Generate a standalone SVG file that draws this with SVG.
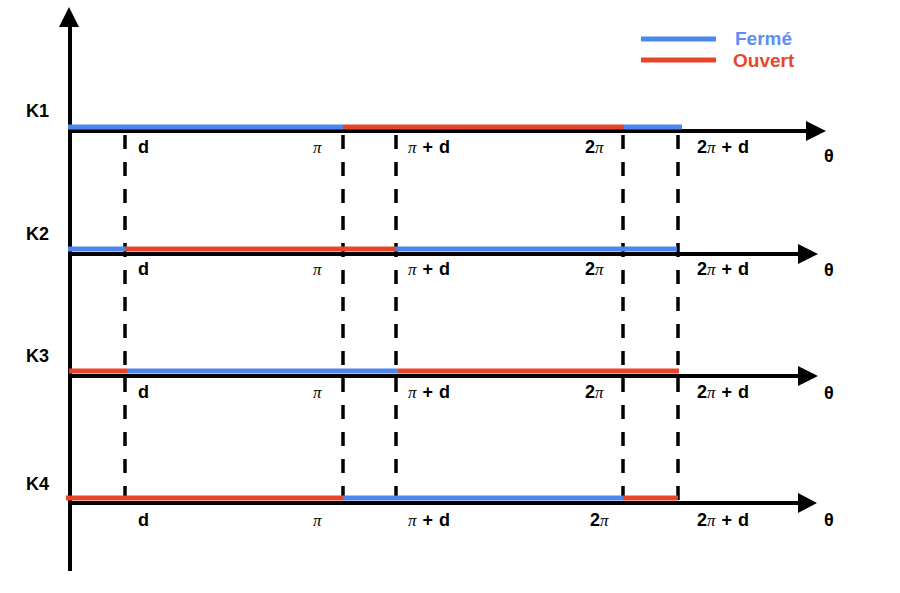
<svg xmlns="http://www.w3.org/2000/svg" width="900" height="593" viewBox="0 0 900 593">
<style>
.ax{stroke:#000;stroke-width:4;fill:none}
.ah{fill:#000}
.dash{stroke:#000;stroke-width:3.5;stroke-dasharray:14 13;fill:none}
.b{stroke:#4C87EE;stroke-width:5;fill:none}
.r{stroke:#E8442A;stroke-width:5;fill:none}
.t{font-family:"Liberation Sans",Arial,sans-serif;font-weight:bold;font-size:18px;fill:#000;word-spacing:1px}
.k{font-family:"Liberation Sans",Arial,sans-serif;font-weight:bold;font-size:18px;fill:#000}
.pi{font-family:"Liberation Serif","Times New Roman",serif;font-style:italic;font-weight:normal;font-size:17px}
.lg{font-family:"Liberation Sans",Arial,sans-serif;font-weight:bold;font-size:19px}
</style>
<rect width="900" height="593" fill="#fff"/>
<g id="axes">
<line class="ax" x1="70" y1="24" x2="70" y2="571"/>
<polygon class="ah" points="69,7 59,27 79,27"/>
<line class="ax" x1="68" y1="131" x2="810" y2="131"/>
<polygon class="ah" points="826,131 806,121 806,141"/>
<line class="ax" x1="68" y1="254" x2="802" y2="254"/>
<polygon class="ah" points="818,254 798,244 798,264"/>
<line class="ax" x1="68" y1="376" x2="802" y2="376"/>
<polygon class="ah" points="818,376 798,366 798,386"/>
<line class="ax" x1="68" y1="503" x2="801" y2="503"/>
<polygon class="ah" points="817,503 798,493 798,513"/>
</g>
<g id="dashes">
<line class="dash" x1="125" y1="135" x2="125" y2="500"/>
<line class="dash" x1="343" y1="135" x2="343" y2="500"/>
<line class="dash" x1="396" y1="135" x2="396" y2="500"/>
<line class="dash" x1="623" y1="135" x2="623" y2="500"/>
<line class="dash" x1="678" y1="135" x2="678" y2="500"/>
</g>
<g id="K1">
<line class="b" x1="68" y1="127" x2="343" y2="127"/>
<line class="r" x1="343" y1="127" x2="624" y2="127"/>
<line class="b" x1="624" y1="127" x2="682" y2="127"/>
<text class="k" x="26" y="117">K1</text>
</g>
<g id="K2">
<line class="b" x1="68" y1="249" x2="125" y2="249"/>
<line class="r" x1="125" y1="249" x2="396" y2="249"/>
<line class="b" x1="396" y1="249" x2="677" y2="249"/>
<text class="k" x="26" y="240">K2</text>
</g>
<g id="K3">
<line class="r" x1="69" y1="371" x2="127" y2="371"/>
<line class="b" x1="127" y1="371" x2="398" y2="371"/>
<line class="r" x1="398" y1="371" x2="679" y2="371"/>
<text class="k" x="26" y="362">K3</text>
</g>
<g id="K4">
<line class="r" x1="66" y1="498" x2="343" y2="498"/>
<line class="b" x1="343" y1="498" x2="623" y2="498"/>
<line class="r" x1="623" y1="498" x2="678" y2="498"/>
<text class="k" x="26" y="490">K4</text>
</g>
<g id="labels">
<g transform="translate(0,153)">
<text class="t" x="138" y="0">d</text>
<text class="t pi" x="313" y="0">π</text>
<text class="t" x="408" y="0"><tspan class="pi">π</tspan> + d</text>
<text class="t" x="585" y="0">2<tspan class="pi">π</tspan></text>
<text class="t" x="697" y="0">2<tspan class="pi">π</tspan> + d</text>
<text class="t" x="824" y="9">θ</text>
</g>
<g transform="translate(0,275)">
<text class="t" x="138" y="0">d</text>
<text class="t pi" x="313" y="0">π</text>
<text class="t" x="408" y="0"><tspan class="pi">π</tspan> + d</text>
<text class="t" x="585" y="0">2<tspan class="pi">π</tspan></text>
<text class="t" x="697" y="0">2<tspan class="pi">π</tspan> + d</text>
<text class="t" x="824" y="1">θ</text>
</g>
<g transform="translate(0,398)">
<text class="t" x="138" y="0">d</text>
<text class="t pi" x="313" y="0">π</text>
<text class="t" x="408" y="0"><tspan class="pi">π</tspan> + d</text>
<text class="t" x="585" y="0">2<tspan class="pi">π</tspan></text>
<text class="t" x="697" y="0">2<tspan class="pi">π</tspan> + d</text>
<text class="t" x="824" y="1">θ</text>
</g>
<g transform="translate(0,526)">
<text class="t" x="138" y="0">d</text>
<text class="t pi" x="313" y="0">π</text>
<text class="t" x="408" y="0"><tspan class="pi">π</tspan> + d</text>
<text class="t" x="590" y="0">2<tspan class="pi">π</tspan></text>
<text class="t" x="697" y="0">2<tspan class="pi">π</tspan> + d</text>
<text class="t" x="824" y="0">θ</text>
</g>
</g>
<g id="legend">
<line class="b" x1="641" y1="39" x2="716" y2="39"/>
<line class="r" x1="641" y1="60" x2="716" y2="60"/>
<text class="lg" x="735" y="45" fill="#5A8FF0">Fermé</text>
<text class="lg" x="733" y="67" fill="#E8462A">Ouvert</text>
</g>
</svg>
